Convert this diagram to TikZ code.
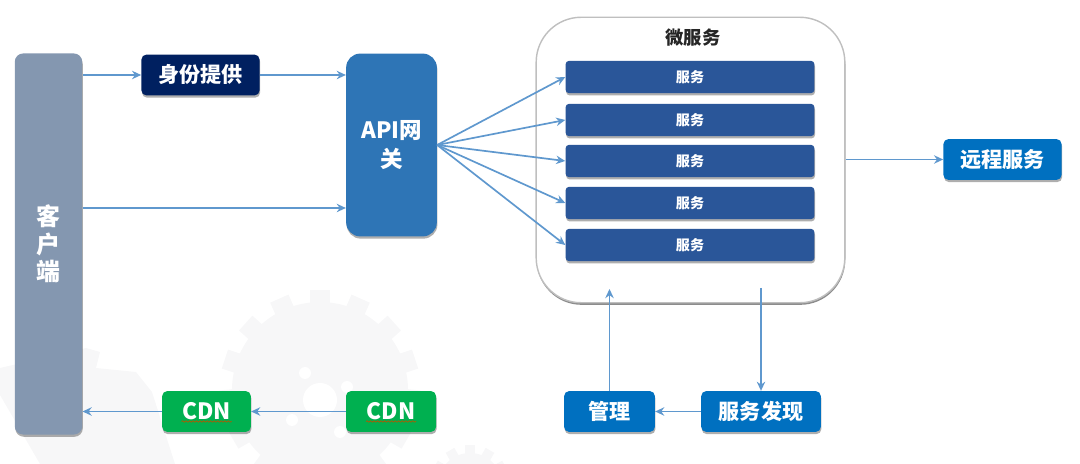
\documentclass[tikz,border=0pt]{standalone}
\usepackage{fontspec}
\setmainfont{Noto Sans CJK SC}
\usetikzlibrary{arrows.meta,shadows,decorations.pathmorphing}

\definecolor{clientgray}{HTML}{8497B0}
\definecolor{idpnavy}{HTML}{002060}
\definecolor{apiblue}{HTML}{2E75B6}
\definecolor{svcblue}{HTML}{2A5699}
\definecolor{deepblue}{HTML}{0070C0}
\definecolor{cdngreen}{HTML}{00B050}
\definecolor{linkblue}{HTML}{5F98CE}
\definecolor{gearfaint}{HTML}{F7F7F8}

\newcommand{\svclabel}{\raisebox{1.2pt}{服务}}

\tikzset{
    boxshadow/.style={drop shadow={shadow xshift=0.4pt, shadow yshift=-1.6pt, opacity=0.45, fill=black!70}},
    block/.style={rectangle, rounded corners=3.5pt, text=white, font=\fontsize{15}{18}\selectfont\bfseries, align=center, inner sep=0pt, boxshadow},
    svcbox/.style={block, fill=svcblue, minimum width=177pt, minimum height=23pt, rounded corners=2.5pt, font=\fontsize{10}{12}\selectfont\bfseries},
    link/.style={draw=linkblue, line width=1.2pt, -{Stealth[length=6.5pt,width=6pt]}},
    squiggle/.style={draw=orange!70!black, line width=0.5pt, decorate, decoration={snake, amplitude=0.5pt, segment length=2.5pt}}
}

\begin{document}
\begin{tikzpicture}[x=0.025cm, y=-0.025cm]
    \useasboundingbox (0,0) rectangle (1080,464);

    % Draw watermark gears
    \begin{scope}
        \clip (0,0) rectangle (1080,464);
        \fill[gearfaint] (320,390) circle (88);
        \foreach \a in {0,24,...,336}
            \fill[gearfaint, rotate around={\a:(320,390)}] (310,290) rectangle (330,310);
        \fill[white] (320,400) circle (17);
        \fill[white] (305,373) circle (6);
        \fill[white] (347,387) circle (6);
        \fill[white] (292,420) circle (6);
        \fill[white] (340,432) circle (6);
        \fill[gearfaint] (0,368) -- (86,348) -- (100,352) -- (96,368) -- (136,372) -- (152,392) -- (175,464) -- (40,464) -- (0,395) -- cycle;
        \fill[gearfaint] (470,485) circle (32);
        \foreach \a in {0,30,...,330}
            \fill[gearfaint, rotate around={\a:(470,485)}] (465,445) rectangle (475,458);
    \end{scope}

    % Draw the blocks
    \node[block, fill=clientgray, minimum width=48pt, minimum height=271pt, rounded corners=6pt, font=\fontsize{17}{19.5}\selectfont\bfseries] (client) at (48.5,244) {客\\户\\端};
    \node[block, fill=idpnavy, minimum width=84pt, minimum height=29pt] (idp) at (200.5,75) {身份提供};
    \node[block, fill=apiblue, minimum width=64.5pt, minimum height=130pt, rounded corners=10pt, font=\fontsize{16}{20}\selectfont\bfseries] (api) at (391.5,145) {API网\\关};

    % Draw the microservice group
    \node[rectangle, draw=black!25, line width=1pt, fill=white, rounded corners=32pt, minimum width=219.5pt, minimum height=203pt, inner sep=0pt,
        drop shadow={shadow xshift=0.3pt, shadow yshift=-1.5pt, opacity=0.6, fill=black!75}] (micro) at (690.5,160) {};
    \node[text=black!85, font=\fontsize{13}{15}\selectfont\bfseries, inner sep=0pt] (microtitle) at (693,38) {微服务};
    \node[svcbox] (svcA) at (690,77) {\svclabel};
    \node[svcbox] (svcB) at (690,120) {\svclabel};
    \node[svcbox] (svcC) at (690,161) {\svclabel};
    \node[svcbox] (svcD) at (690,203) {\svclabel};
    \node[svcbox] (svcE) at (690,245) {\svclabel};

    \node[block, fill=deepblue, minimum width=84pt, minimum height=29pt] (remote) at (1002.5,159.5) {远程服务};
    \node[block, fill=cdngreen, minimum width=63pt, minimum height=29pt, font=\fontsize{16}{18}\selectfont\bfseries] (cdnA) at (206.5,411.5) {CDN};
    \node[block, fill=cdngreen, minimum width=64pt, minimum height=29pt, font=\fontsize{16}{18}\selectfont\bfseries] (cdnB) at (391,411.5) {CDN};
    \node[block, fill=deepblue, minimum width=64.5pt, minimum height=29pt] (mgr) at (609.5,411.5) {管理};
    \node[block, fill=deepblue, minimum width=85pt, minimum height=29pt] (discovery) at (761,411.5) {服务发现};

    % Spell check marks under CDN
    \draw[squiggle] ([shift={(-25,10)}]cdnA.center) -- ([shift={(25,10)}]cdnA.center);
    \draw[squiggle] ([shift={(-25,10)}]cdnB.center) -- ([shift={(25,10)}]cdnB.center);

    % Draw the connectors
    \coordinate (mgrin) at (609.5,289);
    \coordinate (discout) at (761,288);
    \draw[link] (client.east |- idp.west) -- (idp.west);
    \draw[link] (idp.east) -- (api.west |- idp.east);
    \draw[link] (client.east |- 0,208) -- (api.west |- 0,208);
    \foreach \svc in {svcA,svcB,svcC,svcD,svcE}
        \draw[link] (api.east) -- (\svc.west);
    \draw[link] (micro.east |- remote.west) -- (remote.west);
    \draw[link] (mgr.north) -- (mgrin);
    \draw[link] (discout) -- (discovery.north);
    \draw[link] (discovery.west) -- (mgr.east);
    \draw[link] (cdnB.west) -- (cdnA.east);
    \draw[link] (cdnA.west) -- (client.east |- cdnA.west);
\end{tikzpicture}
\end{document}
